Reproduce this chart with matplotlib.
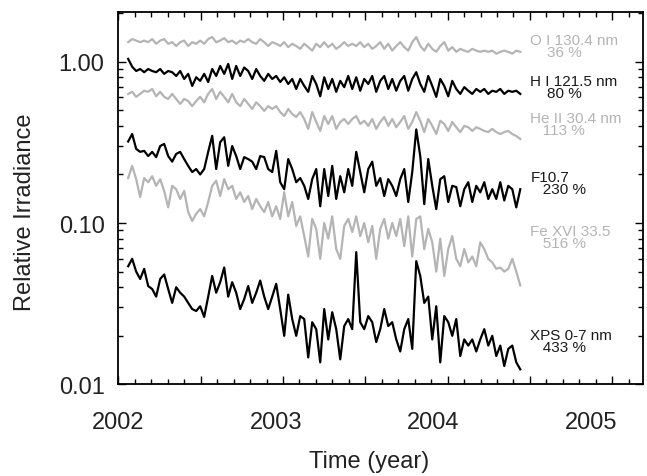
import numpy as np
import matplotlib
matplotlib.use("Agg")
import matplotlib.pyplot as plt
from matplotlib.ticker import FixedLocator, LogLocator, NullFormatter, FixedFormatter
import matplotlib.transforms as mtransforms

plt.rcParams['font.family'] = ['Liberation Sans', 'DejaVu Sans']

# time grid (decimal year), roughly 9-day sampling of the daily records
t_start = 2002.062
t_step = 0.0254

# relative irradiance
o1_1304 = [1.32, 1.38, 1.35, 1.32, 1.35, 1.32, 1.38, 1.29, 1.35, 1.38,
           1.29, 1.32, 1.25, 1.32, 1.35, 1.25, 1.32, 1.29, 1.35, 1.29,
           1.38, 1.42, 1.32, 1.35, 1.40, 1.32, 1.35, 1.29, 1.35, 1.32,
           1.38, 1.32, 1.29, 1.38, 1.32, 1.25, 1.32, 1.29, 1.25, 1.32,
           1.23, 1.29, 1.25, 1.20, 1.29, 1.23, 1.17, 1.29, 1.23, 1.32,
           1.23, 1.29, 1.20, 1.25, 1.32, 1.25, 1.29, 1.25, 1.32, 1.23,
           1.29, 1.20, 1.25, 1.32, 1.20, 1.29, 1.17, 1.25, 1.32, 1.23,
           1.17, 1.32, 1.42, 1.25, 1.17, 1.29, 1.20, 1.15, 1.25, 1.32,
           1.17, 1.23, 1.15, 1.20, 1.17, 1.15, 1.20, 1.17, 1.15, 1.17,
           1.15, 1.17, 1.12, 1.15, 1.17, 1.15, 1.12, 1.17, 1.15]

h1_1215 = [1.04, 0.93, 0.875, 0.90, 0.86, 0.90, 0.875, 0.86, 0.90, 0.84,
           0.875, 0.86, 0.815, 0.875, 0.781, 0.84, 0.707, 0.80, 0.76, 0.84,
           0.748, 0.90, 0.815, 0.94, 0.84, 0.968, 0.781, 0.94, 0.815, 0.92,
           0.875, 0.781, 0.90, 0.815, 0.76, 0.84, 0.781, 0.815, 0.748, 0.80,
           0.727, 0.781, 0.677, 0.781, 0.707, 0.65, 0.815, 0.727, 0.61, 0.80,
           0.677, 0.781, 0.65, 0.76, 0.695, 0.815, 0.677, 0.80, 0.66, 0.781,
           0.727, 0.815, 0.65, 0.76, 0.815, 0.677, 0.781, 0.66, 0.76, 0.815,
           0.66, 0.781, 0.86, 0.727, 0.65, 0.815, 0.707, 0.605, 0.781, 0.707,
           0.61, 0.76, 0.677, 0.631, 0.695, 0.66, 0.631, 0.677, 0.65, 0.677,
           0.631, 0.66, 0.65, 0.677, 0.631, 0.66, 0.65, 0.66, 0.631]

he2_304 = [0.631, 0.65, 0.605, 0.631, 0.66, 0.65, 0.677, 0.61, 0.65, 0.605,
           0.587, 0.631, 0.587, 0.547, 0.587, 0.57, 0.53, 0.57, 0.605, 0.56,
           0.631, 0.677, 0.587, 0.65, 0.605, 0.56, 0.631, 0.56, 0.53, 0.587,
           0.547, 0.509, 0.56, 0.53, 0.495, 0.53, 0.509, 0.53, 0.487, 0.46,
           0.509, 0.474, 0.454, 0.487, 0.441, 0.383, 0.487, 0.423, 0.372, 0.46,
           0.411, 0.46, 0.383, 0.423, 0.441, 0.411, 0.441, 0.46, 0.411, 0.43,
           0.40, 0.441, 0.383, 0.423, 0.454, 0.40, 0.441, 0.392, 0.423, 0.46,
           0.383, 0.423, 0.487, 0.43, 0.366, 0.441, 0.40, 0.356, 0.43, 0.411,
           0.372, 0.423, 0.392, 0.366, 0.40, 0.392, 0.372, 0.392, 0.383, 0.372,
           0.366, 0.383, 0.366, 0.356, 0.366, 0.372, 0.356, 0.346, 0.332]

f107 = [0.32, 0.356, 0.288, 0.276, 0.28, 0.26, 0.276, 0.256, 0.30, 0.309,
        0.26, 0.24, 0.268, 0.276, 0.249, 0.226, 0.207, 0.216, 0.20, 0.216,
        0.276, 0.347, 0.216, 0.317, 0.34, 0.226, 0.30, 0.26, 0.216, 0.256,
        0.249, 0.24, 0.216, 0.26, 0.256, 0.216, 0.207, 0.28, 0.179, 0.162,
        0.249, 0.216, 0.179, 0.19, 0.17, 0.141, 0.187, 0.216, 0.127, 0.216,
        0.147, 0.226, 0.141, 0.195, 0.155, 0.216, 0.17, 0.276, 0.207, 0.155,
        0.216, 0.24, 0.17, 0.19, 0.147, 0.187, 0.17, 0.147, 0.187, 0.216,
        0.135, 0.207, 0.38, 0.26, 0.131, 0.249, 0.17, 0.122, 0.187, 0.195,
        0.135, 0.17, 0.167, 0.127, 0.162, 0.179, 0.135, 0.17, 0.155, 0.179,
        0.141, 0.162, 0.141, 0.179, 0.138, 0.17, 0.162, 0.125, 0.162]

fe16_335 = [0.19, 0.226, 0.187, 0.145, 0.19, 0.179, 0.195, 0.17, 0.187, 0.158,
            0.125, 0.17, 0.162, 0.141, 0.158, 0.117, 0.103, 0.114, 0.122, 0.110,
            0.135, 0.17, 0.183, 0.147, 0.187, 0.162, 0.17, 0.141, 0.155, 0.135,
            0.147, 0.122, 0.141, 0.127, 0.117, 0.135, 0.110, 0.127, 0.106, 0.155,
            0.110, 0.135, 0.096, 0.110, 0.083, 0.062, 0.106, 0.092, 0.060, 0.100,
            0.080, 0.110, 0.069, 0.060, 0.096, 0.106, 0.088, 0.110, 0.083, 0.100,
            0.076, 0.096, 0.060, 0.092, 0.106, 0.080, 0.100, 0.083, 0.106, 0.072,
            0.110, 0.062, 0.106, 0.110, 0.069, 0.092, 0.076, 0.050, 0.080, 0.047,
            0.069, 0.083, 0.060, 0.054, 0.069, 0.057, 0.062, 0.054, 0.076, 0.069,
            0.060, 0.057, 0.052, 0.053, 0.050, 0.052, 0.060, 0.050, 0.041]

xps_07 = [0.054, 0.060, 0.050, 0.045, 0.052, 0.0407, 0.039, 0.035, 0.045, 0.048,
          0.039, 0.032, 0.040, 0.037, 0.035, 0.032, 0.0293, 0.0285, 0.0305, 0.0262,
          0.035, 0.047, 0.037, 0.043, 0.053, 0.035, 0.043, 0.037, 0.0293, 0.0338,
          0.0407, 0.032, 0.037, 0.044, 0.035, 0.0293, 0.035, 0.042, 0.0293, 0.020,
          0.036, 0.0254, 0.020, 0.0265, 0.0254, 0.0147, 0.0243, 0.022, 0.0137, 0.0293,
          0.019, 0.028, 0.022, 0.0143, 0.023, 0.0254, 0.022, 0.066, 0.0243, 0.022,
          0.0265, 0.0243, 0.0183, 0.022, 0.0293, 0.023, 0.0243, 0.019, 0.016, 0.022,
          0.0254, 0.0166, 0.058, 0.047, 0.032, 0.035, 0.019, 0.0305, 0.0137, 0.0265,
          0.0243, 0.020, 0.0254, 0.015, 0.019, 0.0174, 0.019, 0.016, 0.019, 0.022,
          0.0174, 0.020, 0.015, 0.0174, 0.013, 0.0166, 0.0174, 0.0137, 0.0124]

gray = '#b4b4b4'
dark = '#1a1a1a'

series = [
    (o1_1304, gray),
    (he2_304, gray),
    (fe16_335, gray),
    (h1_1215, 'black'),
    (f107, 'black'),
    (xps_07, 'black'),
]

# right-hand labels: name, variation, y of the label block centre, colour
names = ['O I 130.4 nm', 'H I 121.5 nm', 'He II 30.4 nm', 'F10.7', 'Fe XVI 33.5', 'XPS 0-7 nm']
variation = ['36 %', '80 %', '113 %', '230 %', '516 %', '433 %']
label_y = [1.242, 0.698, 0.411, 0.1765, 0.0815, 0.01865]
label_col = [gray, dark, gray, dark, gray, dark]
indent = ['    ', '    ', '   ', '   ', '   ', '   ']

years = [2002, 2003, 2004, 2005]

fig = plt.figure(figsize=(6.47, 4.77), dpi=100)
ax = fig.add_axes([0.183, 0.192, 0.811, 0.780])

for vals, col in series:
    t = t_start + t_step * np.arange(len(vals))
    ax.plot(t, vals, color=col, lw=1.6, solid_joinstyle='round')

ax.set_yscale('log')
ax.set_xlim(2002.0, 2005.331)
ax.set_ylim(0.01, 2.02)

# x tick marks (IDL style, not aligned with the year labels)
maj = 2002.0 + 0.5225 * np.arange(7)
mnr = 2002.0 + 0.1045 * np.arange(33)
ax.xaxis.set_major_locator(FixedLocator(maj))
ax.xaxis.set_minor_locator(FixedLocator(mnr))
ax.xaxis.set_major_formatter(NullFormatter())
ax.xaxis.set_minor_formatter(NullFormatter())

ax.yaxis.set_major_locator(FixedLocator([0.01, 0.1, 1.0]))
ax.yaxis.set_major_formatter(FixedFormatter(['0.01', '0.10', '1.00']))
ax.yaxis.set_minor_locator(LogLocator(base=10, subs=np.arange(2, 10)))
ax.yaxis.set_minor_formatter(NullFormatter())

ax.tick_params(which='both', direction='in', top=True, right=True,
               width=1.0, colors='black', labelcolor='#222222', labelsize=17)
ax.tick_params(which='major', length=6, pad=10)
ax.tick_params(which='minor', length=3.5)
for sp in ax.spines.values():
    sp.set_linewidth(1.3)

trans = mtransforms.blended_transform_factory(ax.transData, ax.transAxes)
for yr in years:
    ax.text(yr, -0.100, str(yr), transform=trans, ha='center', va='center',
            fontsize=17, color='#222222', clip_on=False)

fig.text(0.570, 0.031, 'Time (year)', ha='center', va='center',
         fontsize=17, color='#222222')
fig.text(0.039, 0.556, 'Relative Irradiance', ha='center', va='center',
         rotation=90, fontsize=17, color='#222222')

for name, var, yc, col, ind in zip(names, variation, label_y, label_col, indent):
    ax.text(2004.616, yc, name + '\n' + ind + var, color=col, fontsize=11,
            ha='left', va='center', linespacing=0.82, multialignment='left')

fig.savefig('out.png', dpi=100)
